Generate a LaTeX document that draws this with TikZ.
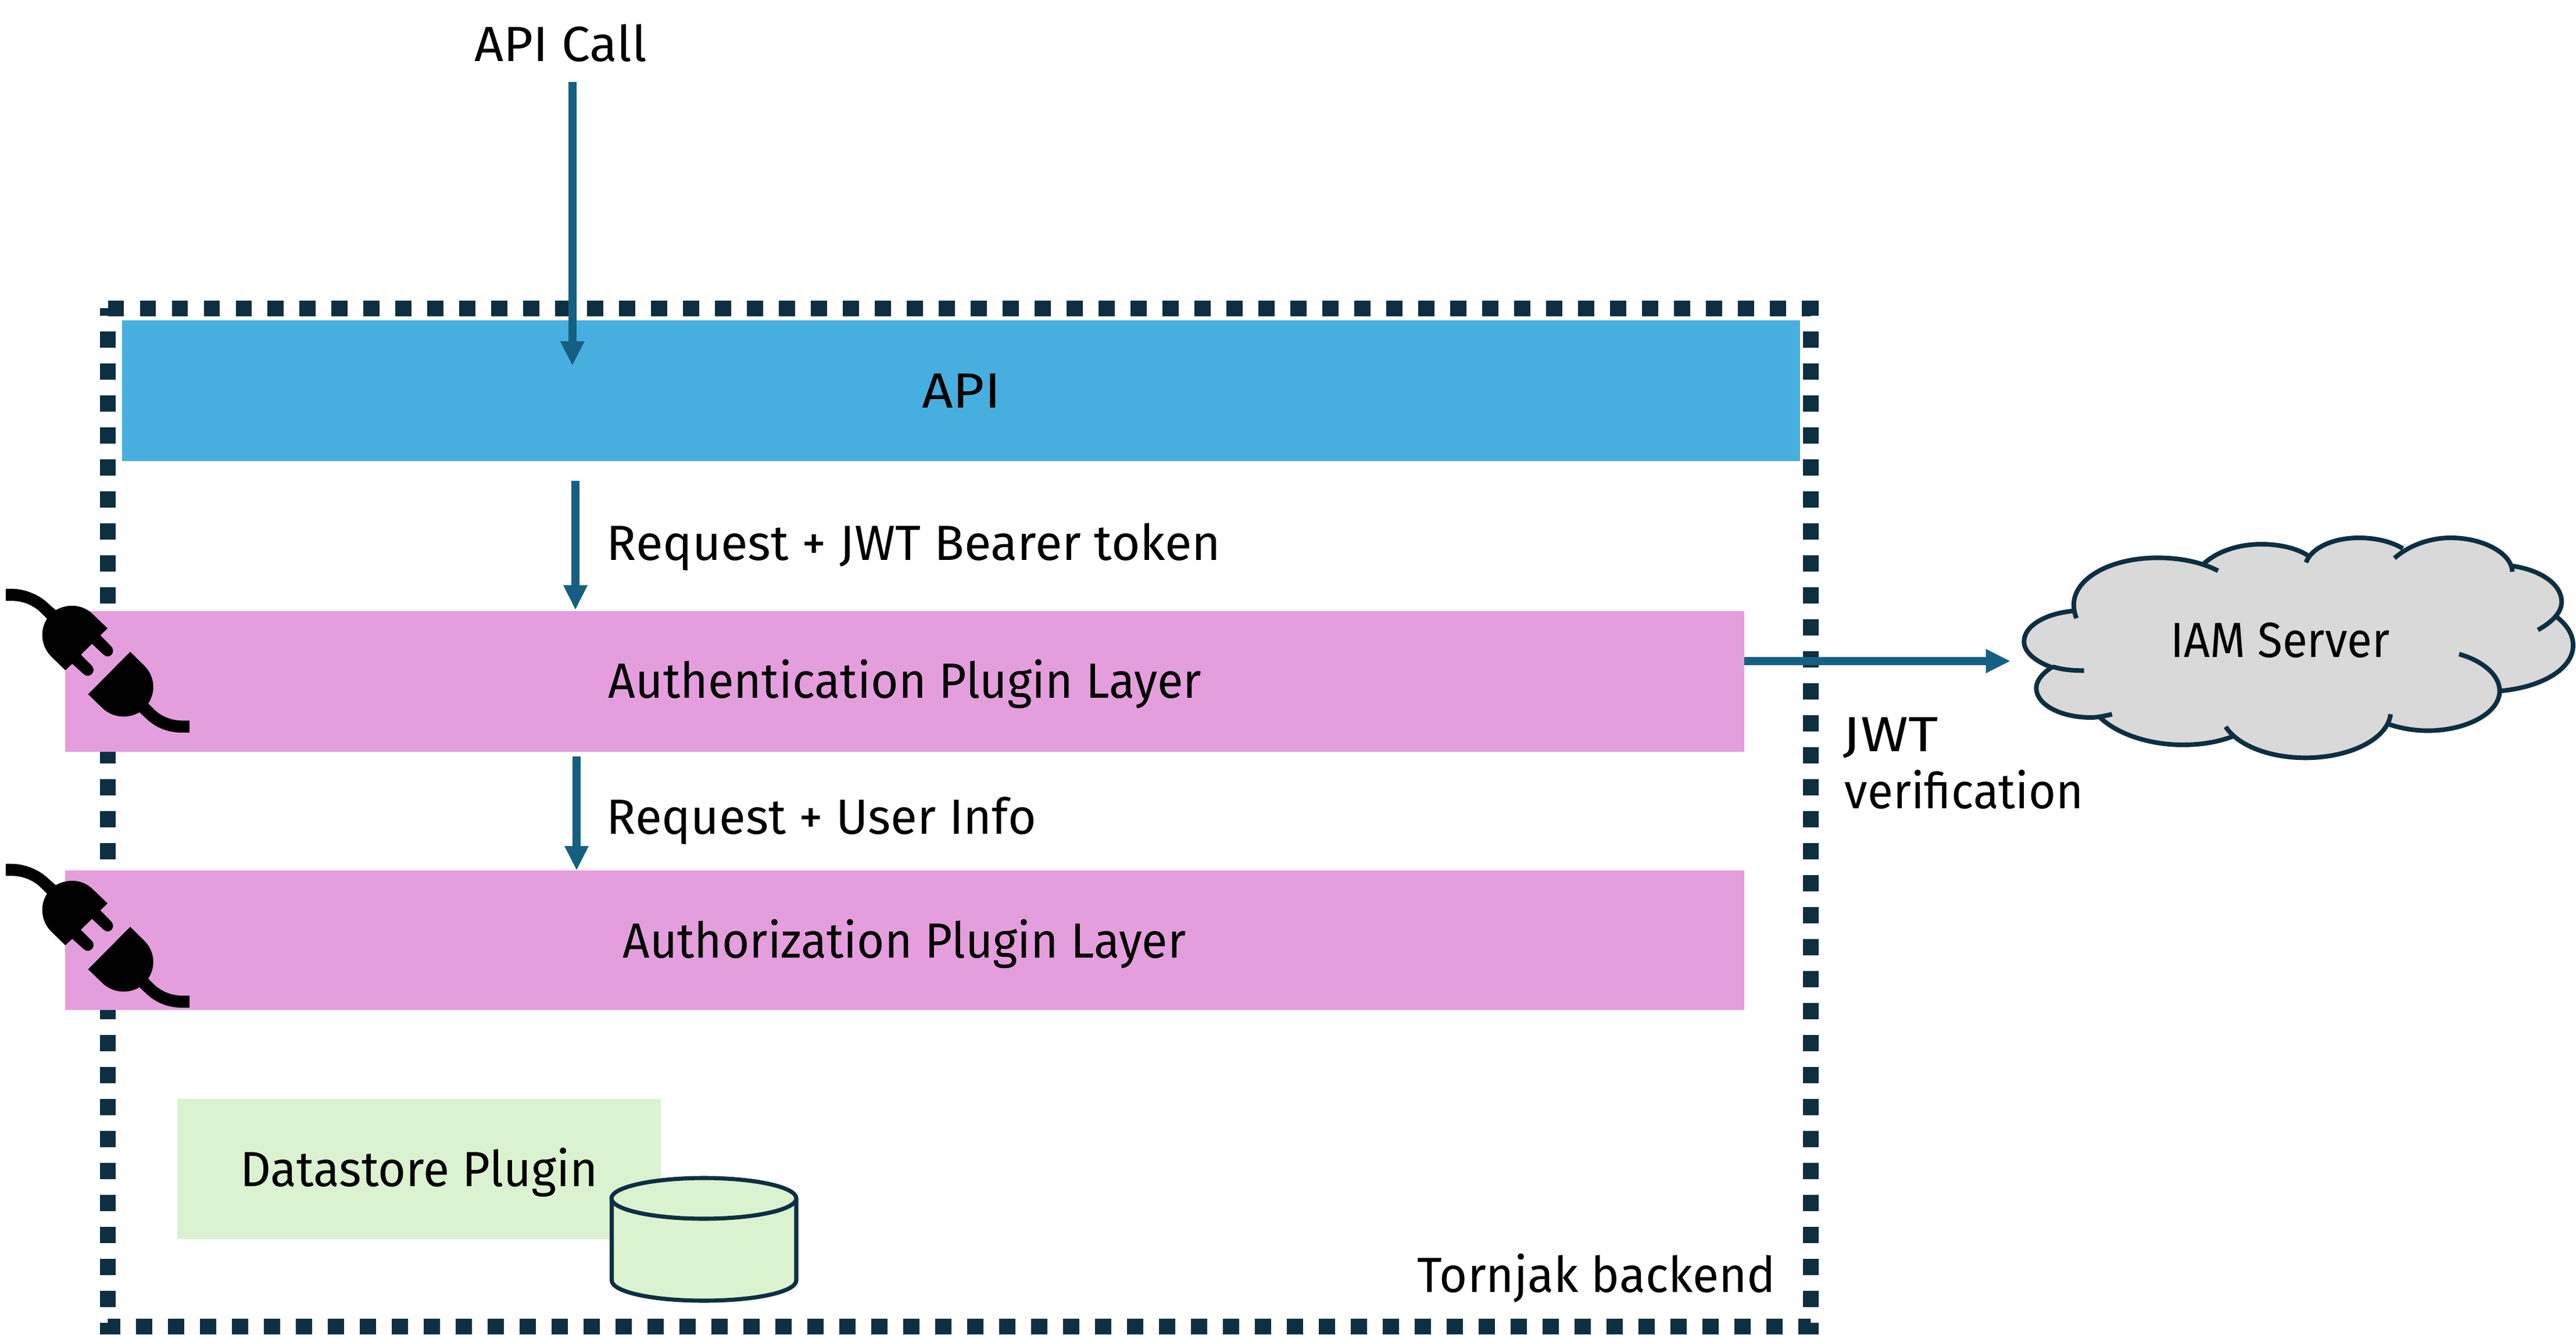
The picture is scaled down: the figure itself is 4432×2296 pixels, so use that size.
\documentclass[tikz,border=0pt]{standalone}
\usepackage{fontspec}
\setmainfont{Fira Sans}
\definecolor{frame}{HTML}{0E2F42}
\definecolor{arrowblue}{HTML}{156082}
\definecolor{apiblue}{HTML}{47AFE0}
\definecolor{pluginpink}{HTML}{E49EDD}
\definecolor{storegreen}{HTML}{DAF2D0}
\definecolor{cloudgrey}{HTML}{D9D9D9}
\tikzset{
  label/.style={inner sep=0pt,anchor=base,font=\fontsize{20.4pt}{24pt}\selectfont},
  labelleft/.style={label,anchor=base west},
  flow/.style={draw=arrowblue,line width=3.4pt},
  flowhead/.style={fill=arrowblue},
  cloudline/.style={draw=frame,line width=1.9pt}
}
\newcommand{\plugicon}[1]{%
\begin{scope}[shift={(0,#1)},x=0.08pt,y=-0.08pt]
\fill[black] (30,158) -- (60,158) .. controls (130,158) and (205,190) .. (250,235) -- (288,268) .. controls (345,235) and (425,235) .. (480,290) -- (555,362) -- (518,398) -- (575,456) .. controls (600,485) and (565,525) .. (535,498) -- (475,442) -- (417,498) -- (475,556) .. controls (500,585) and (460,625) .. (432,598) -- (373,545) -- (337,578) -- (262,505) .. controls (210,450) and (205,370) .. (243,312) -- (205,275) .. controls (165,238) and (110,220) .. (60,220) -- (30,220) -- cycle;
\fill[black] (672,483) -- (745,555) .. controls (800,610) and (805,690) .. (765,750) -- (800,785) .. controls (840,820) and (890,838) .. (940,838) -- (978,838) -- (978,900) -- (940,900) .. controls (860,900) and (800,870) .. (755,828) -- (720,795) .. controls (660,830) and (580,825) .. (525,770) -- (455,702) -- cycle;
\end{scope}}
\begin{document}
\begin{tikzpicture}[x=0.24pt,y=-0.24pt]
\useasboundingbox (0,0) rectangle (4432,2296);
% frame
\draw[frame,line width=6.5pt,dash pattern=on 6.6pt off 6.6pt] (185.5,530.5) -- (3115.5,530.5) -- (3115.5,2281.5) -- (185.5,2281.5) -- cycle;
% layers
\fill[apiblue] (210,551) rectangle (3097,793);
\fill[pluginpink] (112,1051) rectangle (3001,1293);
\fill[pluginpink] (112,1497) rectangle (3001,1737);
\fill[storegreen] (305,1890) rectangle (1136.5,2131);
% arrows
\draw[flow] (984.7,141) -- (984.7,590);
\fill[flowhead] (963.7,587) -- (1005.7,587) -- (984.7,628) -- cycle;
\draw[flow] (990,827) -- (990,1010);
\fill[flowhead] (969,1006.5) -- (1011,1006.5) -- (990,1048) -- cycle;
\draw[flow] (992,1301) -- (992,1458);
\fill[flowhead] (971,1455) -- (1013,1455) -- (992,1496) -- cycle;
\draw[flow] (3001,1137) -- (3420,1137);
\fill[flowhead] (3416.5,1116) -- (3416.5,1158) -- (3458,1137) -- cycle;
% plugs
\plugicon{960}
\plugicon{1433}
% cylinder
\draw[fill=storegreen,draw=frame,line width=1.7pt] (1052.5,2061) -- (1052.5,2202) .. controls (1052.5,2222) and (1123,2237) .. (1211,2237) .. controls (1299,2237) and (1370,2222) .. (1370,2202) -- (1370,2061);
\path[fill=storegreen,draw=frame,line width=1.7pt] (1211,2061) ellipse [x radius=159,y radius=35];
% cloud
\begin{scope}[shift={(3400,880)},x=0.158pt,y=-0.08pt]
\fill[cloudgrey] (200,805) .. controls (150,770) and (125,720) .. (125,670) .. controls (125,590) and (180,525) .. (255,512)
 -- (262,550) .. controls (257,525) and (255,500) .. (255,480) .. controls (255,345) and (350,238) .. (475,238) .. controls (535,238) and (590,262) .. (632,305)
 -- (595,268) .. controls (630,205) and (685,168) .. (745,168) .. controls (795,168) and (840,190) .. (868,228)
 -- (862,262) .. controls (875,190) and (930,135) .. (1000,135) .. controls (1050,135) and (1090,160) .. (1115,190)
 -- (1093,240) .. controls (1130,175) and (1185,135) .. (1240,135) .. controls (1325,135) and (1400,215) .. (1401,310)
 -- (1400,280) .. controls (1475,300) and (1530,375) .. (1530,465) .. controls (1530,520) and (1505,570) .. (1468,610)
 -- (1515,540) .. controls (1545,585) and (1560,635) .. (1560,690) .. controls (1560,810) and (1480,905) .. (1370,925)
 -- (1368,925) .. controls (1368,1040) and (1280,1130) .. (1180,1130) .. controls (1140,1130) and (1105,1115) .. (1075,1095)
 -- (1083,1045) .. controls (1075,1175) and (975,1270) .. (860,1270) .. controls (770,1270) and (685,1210) .. (652,1110)
 -- (670,1160) .. controls (630,1190) and (585,1203) .. (540,1203) .. controls (450,1203) and (365,1145) .. (320,1055)
 -- (355,1045) .. controls (335,1055) and (315,1062) .. (300,1062) .. controls (220,1062) and (157,995) .. (157,910) .. controls (157,870) and (175,830) .. (200,800) -- cycle;
\draw[cloudline] (282,820) .. controls (250,820) and (225,815) .. (200,800);
\draw[cloudline] (200,805) .. controls (150,770) and (125,720) .. (125,670) .. controls (125,590) and (180,525) .. (255,512);
\draw[cloudline] (262,550) .. controls (257,525) and (255,500) .. (255,480) .. controls (255,345) and (350,238) .. (475,238) .. controls (535,238) and (590,262) .. (632,305);
\draw[cloudline] (595,268) .. controls (630,205) and (685,168) .. (745,168) .. controls (795,168) and (840,190) .. (868,228);
\draw[cloudline] (862,262) .. controls (875,190) and (930,135) .. (1000,135) .. controls (1050,135) and (1090,160) .. (1115,190);
\draw[cloudline] (1093,240) .. controls (1130,175) and (1185,135) .. (1240,135) .. controls (1325,135) and (1400,215) .. (1401,310);
\draw[cloudline] (1400,280) .. controls (1475,300) and (1530,375) .. (1530,465) .. controls (1530,520) and (1505,570) .. (1468,610);
\draw[cloudline] (1515,540) .. controls (1545,585) and (1560,635) .. (1560,690) .. controls (1560,810) and (1480,905) .. (1370,925);
\draw[cloudline] (1262,735) .. controls (1325,770) and (1368,845) .. (1368,925) .. controls (1368,1040) and (1280,1130) .. (1180,1130) .. controls (1140,1130) and (1105,1115) .. (1075,1095);
\draw[cloudline] (1083,1045) .. controls (1075,1175) and (975,1270) .. (860,1270) .. controls (770,1270) and (685,1210) .. (652,1110);
\draw[cloudline] (670,1160) .. controls (630,1190) and (585,1203) .. (540,1203) .. controls (450,1203) and (365,1145) .. (320,1055);
\draw[cloudline] (355,1045) .. controls (335,1055) and (315,1062) .. (300,1062) .. controls (220,1062) and (157,995) .. (157,910) .. controls (157,870) and (175,830) .. (200,800);
\end{scope}
% texts
\node[label] (apicall) at (964.5,106) {\scalebox{1.03}[1]{API Call}};
\node[label] (apilabel) at (1654,702) {\scalebox{1.1}[1]{API}};
\node[labelleft] (reqjwt) at (1043,963.6) {Request + JWT Bearer token};
\node[label] (authn) at (1557,1200.6) {\scalebox{0.96}[1]{Authentication Plugin Layer}};
\node[labelleft] (requser) at (1043,1434) {\scalebox{0.985}[1]{Request + User Info}};
\node[label] (authz) at (1556,1647) {\scalebox{0.955}[1]{Authorization Plugin Layer}};
\node[label] (dsl) at (721,2040) {\scalebox{0.97}[1]{Datastore Plugin}};
\node[label,anchor=base east] (torn) at (3056,2222) {\scalebox{0.973}[1]{Tornjak backend}};
\node[labelleft] (jwt1) at (3170,1292) {\scalebox{1.17}[1]{JWT}};
\node[labelleft] (jwt2) at (3173,1390) {\scalebox{0.948}[1]{verification}};
\node[label] (iam) at (3923,1131) {\scalebox{0.923}[1]{IAM Server}};
\end{tikzpicture}
\end{document}
